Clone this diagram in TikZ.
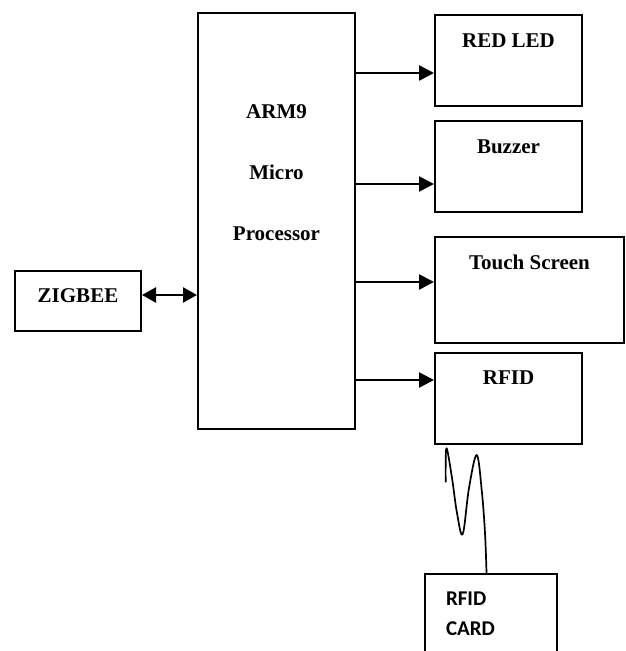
\documentclass[tikz,border=0pt]{standalone}
\usepackage{fontspec}
\setmainfont{Liberation Serif}
\newfontfamily\cardfont{Carlito}
\usetikzlibrary{arrows.meta}
\tikzset{
  blk/.style={draw, line width=2pt, inner xsep=0pt, inner ysep=0pt, anchor=north west, align=center,
    font=\bfseries\fontsize{21}{61}\selectfont},
  arr/.style={line width=2.6pt, -{Triangle[length=15pt,width=15pt]}},
  darr/.style={line width=2.6pt, {Triangle[length=14pt,width=15pt]}-{Triangle[length=14pt,width=15pt]}},
  wave/.style={line width=1.7pt, line cap=round, line join=round}
}
\begin{document}
\begin{tikzpicture}[x=1pt,y=-1pt]
\useasboundingbox (0,0) rectangle (625,651);
\clip (0,0) rectangle (625,651);
% main processor
\node[blk, minimum width=157pt, text height=227pt, text depth=189pt] (arm) at (197,12)
  {ARM9\\Micro\\Processor};
% outputs
\node[blk, minimum width=147pt, text height=32pt, text depth=59pt] (led) at (434,14) {RED LED};
\node[blk, minimum width=147pt, text height=32pt, text depth=59pt] (buz) at (434,120) {Buzzer};
\node[blk, minimum width=189pt, text height=32pt, text depth=74pt] (touch) at (434,236) {Touch Screen};
\node[blk, minimum width=147pt, text height=31pt, text depth=60pt] (rfid) at (434,352) {RFID};
% zigbee
\node[blk, minimum width=126pt, text height=31pt, text depth=29pt] (zig) at (14,270) {ZIGBEE};
% rfid card
\node[draw, line width=2pt, anchor=north west, inner xsep=21.5pt, inner ysep=0pt, text width=89pt, align=left,
  text height=32pt, text depth=100pt, font=\cardfont\bfseries\fontsize{21}{30}\selectfont] (card) at (423.5,572.5)
  {RFID\\CARD};
% connectors
\draw[arr] (arm.east |- 0,73) -- (led.west |- 0,73);
\draw[arr] (arm.east |- 0,184) -- (buz.west |- 0,184);
\draw[arr] (arm.east |- 0,282) -- (touch.west |- 0,282);
\draw[arr] (arm.east |- 0,380) -- (rfid.west |- 0,380);
\draw[darr] (zig.east |- 0,295) -- (arm.west |- 0,295);
% wireless link
\coordinate (wa) at (486.5,572.5);
\coordinate (wb) at (445.7,481.7);
\draw[wave] plot[smooth, tension=0.6] coordinates {(wa) (485,533) (481.7,490) (476.7,455) (469,488) (462.7,534) (457,513) (452,478) (446.7,448.3) (445.7,465) (wb)};
\end{tikzpicture}
\end{document}
